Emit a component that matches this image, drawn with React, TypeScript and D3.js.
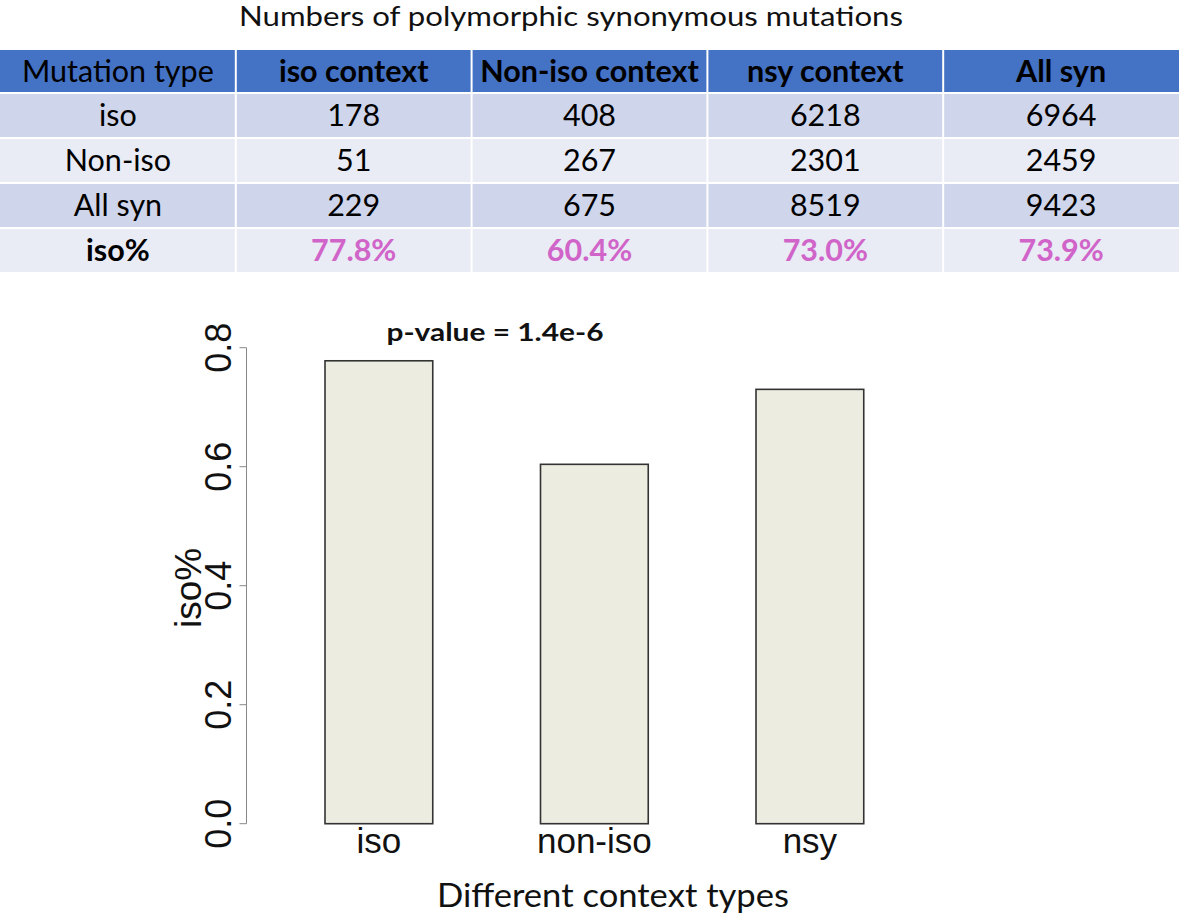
import React from "react";
import * as d3 from "d3";

// ---------- Data ----------
const tableTitle = "Numbers of polymorphic synonymous mutations";
const tableColumns = ["Mutation type", "iso context", "Non-iso context", "nsy context", "All syn"];
const rowLabels = ["iso", "Non-iso", "All syn", "iso%"];
const isoCounts = [178, 408, 6218, 6964];
const nonIsoCounts = [51, 267, 2301, 2459];
const allSynCounts = [229, 675, 8519, 9423];
const isoPercent = ["77.8%", "60.4%", "73.0%", "73.9%"];

const contextTypes = ["iso", "non-iso", "nsy"];
const isoFraction = [0.778, 0.604, 0.730];
const yTicks = [0, 0.2, 0.4, 0.6, 0.8];
const pValueLabel = "p-value = 1.4e-6";
const xAxisTitle = "Different context types";
const yAxisTitle = "iso%";

// ---------- Layout ----------
const W = 1179;
const H = 916;
const calibri = "Lato, 'Open Sans', sans-serif";
const helv = "'Liberation Sans', Arial, Helvetica, sans-serif";
const headerBlue = "#4472C4";
const rowDark = "#CFD5EA";
const rowLight = "#E9EBF5";
const pink = "#D064C8";

export default function App() {
  // table scales
  const colScale = d3.scaleBand<number>().domain(d3.range(tableColumns.length)).range([0, W]).padding(0);
  const tableTop = 50;
  const headerH = 42;
  const rowScale = d3.scaleBand<number>().domain(d3.range(rowLabels.length)).range([tableTop + headerH, tableTop + headerH + 45 * rowLabels.length]).padding(0);

  const bodyRows = rowLabels.map((lab, i) => {
    const vals =
      i === 0 ? isoCounts.map(String) :
      i === 1 ? nonIsoCounts.map(String) :
      i === 2 ? allSynCounts.map(String) : isoPercent;
    return [lab, ...vals];
  });

  // chart scales
  const y = d3.scaleLinear().domain([0, 0.8]).range([823.7, 347.7]);
  const x = d3.scaleBand<string>().domain(contextTypes).range([217.25, 971.5]).paddingInner(0.5).paddingOuter(0.5);
  const axisX = 246.5;

  return (
    <svg width={W} height={H} style={{ position: "absolute", left: 0, top: 0, background: "#fff" }}>
      <rect x={0} y={0} width={W} height={H} fill="#fff" />
      {/* Title */}
      <text x={571} y={26} textAnchor="middle" fontFamily={calibri} fontSize={26} fill="#111" textLength={664} lengthAdjust="spacingAndGlyphs">
        {tableTitle}
      </text>

      {/* Header */}
      {tableColumns.map((c, j) => (
        <g key={"h" + j}>
          <rect x={colScale(j)! + (j === 0 ? 0 : 1)} y={tableTop} width={colScale.bandwidth() - (j === 0 ? 1 : j === tableColumns.length - 1 ? 1 : 2)} height={headerH} fill={headerBlue} />
          <text x={colScale(j)! + colScale.bandwidth() / 2} y={tableTop + headerH / 2 + 10.5} textAnchor="middle" fontFamily={calibri} fontSize={30.5} fontWeight={j === 0 ? 400 : 700} fill="#000">
            {c}
          </text>
        </g>
      ))}

      {/* Body */}
      {bodyRows.map((row, i) => (
        <g key={"r" + i}>
          {row.map((cell, j) => (
            <g key={j}>
              <rect x={colScale(j)! + (j === 0 ? 0 : 1)} y={rowScale(i)! + 2} width={colScale.bandwidth() - (j === 0 ? 1 : j === tableColumns.length - 1 ? 1 : 2)} height={rowScale.bandwidth() - 2} fill={i % 2 === 0 ? rowDark : rowLight} />
              <text x={colScale(j)! + colScale.bandwidth() / 2} y={rowScale(i)! + 2 + (rowScale.bandwidth() - 2) / 2 + 10.5} textAnchor="middle" fontFamily={calibri} fontSize={30.5}
                fontWeight={i === 3 ? 700 : 400} fill={i === 3 && j > 0 ? pink : "#000"}>
                {cell}
              </text>
            </g>
          ))}
        </g>
      ))}

      {/* Bars */}
      {contextTypes.map((c, i) => (
        <rect key={c} x={x(c)!} y={y(isoFraction[i])} width={x.bandwidth()} height={y(0) - y(isoFraction[i])} fill="#ECECE0" stroke="#333" strokeWidth={1.6} />
      ))}

      {/* Y axis */}
      <line x1={axisX} x2={axisX} y1={y(0.8)} y2={y(0)} stroke="#888" strokeWidth={1} />
      {yTicks.map((t) => (
        <g key={t}>
          <line x1={axisX - 7} x2={axisX} y1={y(t)} y2={y(t)} stroke="#888" strokeWidth={1} />
          <text transform={`translate(231,${y(t)}) rotate(-90)`} textAnchor="middle" fontFamily={helv} fontSize={36} fill="#111">
            {t.toFixed(1)}
          </text>
        </g>
      ))}
      <text transform={`translate(201,588) rotate(-90)`} textAnchor="middle" fontFamily={helv} fontSize={37} fill="#111">
        {yAxisTitle}
      </text>

      {/* X labels */}
      {contextTypes.map((c) => (
        <text key={"xl" + c} x={x(c)! + x.bandwidth() / 2} y={853} textAnchor="middle" fontFamily={helv} fontSize={35} fill="#111">
          {c}
        </text>
      ))}
      <text x={613} y={907} textAnchor="middle" fontFamily={calibri} fontSize={32} fill="#111" textLength={352} lengthAdjust="spacingAndGlyphs">
        {xAxisTitle}
      </text>

      {/* p-value */}
      <text x={495} y={341} textAnchor="middle" fontFamily={calibri} fontSize={25} fontWeight={700} fill="#111" textLength={217} lengthAdjust="spacingAndGlyphs">
        {pValueLabel}
      </text>
    </svg>
  );
}
